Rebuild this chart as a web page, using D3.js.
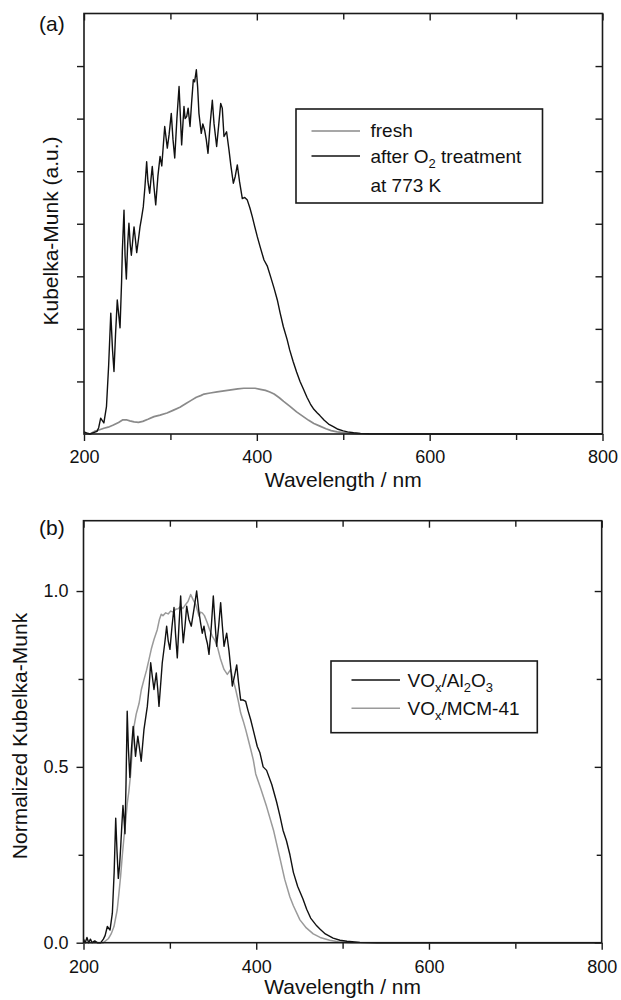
<!DOCTYPE html>
<html><head><meta charset="utf-8">
<script src="https://cdn.jsdelivr.net/npm/d3@7"></script>
<style>body{margin:0;background:#fff}svg{display:block;font-family:"Liberation Sans",Arial,Helvetica,sans-serif}</style>
</head><body><svg id="c" width="621" height="1000"></svg>
<script>
// ---------- data (wavelength nm, Kubelka-Munk) ----------
const xTickLabels = [200, 400, 600, 800];
const xMinorTicks = [300, 500, 700];
// Panel (a): arbitrary units (8 tick intervals, unlabeled)
const aYTicks = [1, 2, 3, 4, 5, 6, 7];
const treatedW = [200,203,207,212,215,217,219.3,221,223,226,228.5,231,233,234.7,236.5,238.5,240,241.7,243.5,244.4,246.3,247.5,249,250.5,252,253.5,254.8,256.5,257.9,259.5,261,263,264.8,266.5,268.6,270.5,272.5,274,276,277.5,279,281,283,285.5,288,290,293.4,296.4,298.5,301,303,305,307.5,310,313,315.7,317,318.8,320.5,322.7,324.5,326.5,328,330,331.5,333,335.7,337.5,339.6,341.5,343.5,346,348.5,350.5,353.5,356,358.2,360,362,365,367.8,370,372.8,375,377.4,380,383.2,386,389,392,394.8,397.5,400.6,404,408.3,412,416,420,423.7,427,430.7,435,438,442,446,450,454,458,462,466,470,473,478,483,488.5,494,500,505,512,520,530,545,570,650,800];
const treatedV = [0.04,0.02,0.0,0.03,0.05,0.12,0.30,0.26,0.21,0.52,1.3,2.30,1.6,1.19,1.9,2.55,2.3,2.02,2.9,3.5,4.26,3.4,2.95,3.6,4.01,3.6,3.4,3.7,3.94,3.7,3.45,3.7,3.94,4.1,4.32,4.7,5.18,4.8,4.58,4.85,5.09,4.7,4.36,4.9,5.28,5.1,5.85,5.44,5.7,6.10,5.6,5.25,6.0,6.61,5.50,6.23,6.0,6.04,6.2,5.85,6.3,6.74,6.7,6.93,6.6,6.10,5.72,5.9,5.78,5.6,5.34,5.9,6.35,5.9,5.47,5.9,6.29,6.2,5.66,5.75,5.40,5.1,4.77,4.9,5.12,4.8,4.48,4.5,4.45,4.3,4.13,3.95,3.75,3.55,3.31,3.2,2.99,2.77,2.55,2.3,2.04,1.8,1.6,1.38,1.18,1.0,0.85,0.70,0.57,0.47,0.40,0.35,0.26,0.19,0.14,0.09,0.06,0.04,0.025,0.012,0.005,0.002,0.0,0.0,0.0];
const freshW = [200,207,212,218,223,228,234,240,245,249,253,258,263,268,274,281,288,296,303,311,318,324,330,335,339,346,354,362,370,378,385,392,398,404,410,415,420,426,431,438,446,453,460,466,473,480,486,493,500,510,520,540,800];
const freshV = [0.0,0.0,0.05,0.08,0.11,0.13,0.17,0.22,0.27,0.27,0.25,0.23,0.22,0.24,0.28,0.33,0.36,0.40,0.45,0.51,0.58,0.64,0.70,0.73,0.76,0.78,0.80,0.82,0.84,0.86,0.87,0.87,0.87,0.85,0.83,0.80,0.76,0.69,0.62,0.53,0.42,0.34,0.26,0.20,0.15,0.10,0.065,0.04,0.025,0.01,0.003,0.0,0.0];
// Panel (b): normalized
const bYMajor = [0, 0.5, 1.0];
const bYMinor = [0.25, 0.75];
const aluminaW = [200,202,204,206,208,210,213,216,220,223,225,227.6,230.7,233.4,235.5,237.3,238.8,240.3,241.8,243,244.3,245.7,247,248,249.2,250.6,252,253.7,255.5,257.5,259,260.2,262.9,265,266.8,270,272,273.9,276,277.8,279.5,281.6,284.3,286,287.4,289.5,291.2,294,296.3,298,300.1,302.5,304.8,306.5,308.6,310.5,312.5,314,315.5,317.5,319.5,322,324.8,328,331,333.7,335.5,337.5,339.5,341.5,343.5,345.3,348,350.3,352,354.2,356.5,358.8,360.8,362.7,365.8,368.5,370.5,372.3,375,377.4,379.5,382,385,387.8,390.5,393.6,397,401.2,404.3,408,412,418,423.6,427.5,431,435,439,443,448,454,458.4,463,470,474,480,489,497,505,520,540,800];
const aluminaV = [0.01,0.0,0.015,0.0,0.01,0.0,0.005,0.0,0.0,0.01,0.02,0.046,0.036,0.084,0.2,0.354,0.26,0.183,0.22,0.27,0.33,0.39,0.35,0.31,0.45,0.658,0.55,0.47,0.55,0.615,0.57,0.53,0.587,0.55,0.516,0.606,0.64,0.672,0.73,0.796,0.76,0.72,0.767,0.72,0.672,0.74,0.796,0.85,0.90,0.86,0.834,0.9,0.953,0.88,0.81,0.9,0.986,0.91,0.853,0.9,0.957,0.92,0.90,0.95,1.0,0.94,0.91,0.88,0.9,0.87,0.85,0.82,0.9,0.986,0.92,0.843,0.9,0.967,0.9,0.843,0.88,0.829,0.78,0.73,0.76,0.79,0.74,0.69,0.69,0.686,0.66,0.634,0.60,0.558,0.54,0.50,0.49,0.45,0.40,0.36,0.32,0.29,0.25,0.20,0.16,0.125,0.095,0.07,0.048,0.038,0.025,0.013,0.007,0.004,0.001,0.0,0.0];
const mcmW = [200,223,229,232,235.3,239,241,243,245,246.9,249,250.7,252.5,254.6,256.5,258.5,261,264.3,267,270,273,275.8,278.5,281.6,285.4,288,290,292,295.2,298,301,304,306.7,310,312.5,315,318.3,321,324.1,327,329.9,333.7,335.5,337.5,340,343.3,346,349.1,352,354.9,358.8,362.7,366.5,370.4,373,376.2,379,382,385,387.8,390.5,393.6,396.6,399.4,405,412,420,427.5,433,439,443,450.6,458,466,474,485,495,510,800];
const mcmV = [0.0,0.0,0.012,0.025,0.046,0.093,0.14,0.19,0.25,0.30,0.35,0.397,0.43,0.48,0.55,0.615,0.65,0.68,0.72,0.748,0.775,0.805,0.835,0.862,0.89,0.92,0.934,0.93,0.938,0.935,0.943,0.94,0.948,0.95,0.957,0.95,0.962,0.97,0.99,0.975,0.962,0.929,0.94,0.938,0.93,0.91,0.89,0.872,0.86,0.843,0.805,0.777,0.763,0.777,0.75,0.72,0.69,0.653,0.63,0.606,0.58,0.55,0.52,0.48,0.44,0.387,0.32,0.24,0.18,0.13,0.105,0.065,0.042,0.025,0.015,0.007,0.003,0.0,0.0];

const svg = d3.select("#c");
const FONT_TICK = 18, FONT_TITLE = 21, FONT_LEG = 19;
const axisColor = "#1a1a1a";

function styleAxis(g){
  g.select(".domain").remove();
  g.selectAll(".tick line").attr("stroke", axisColor).attr("stroke-width", 1.4);
  g.selectAll(".tick text").attr("fill", "#111").style("font-size", FONT_TICK + "px");
}

function panel(opt){
  const x = d3.scaleLinear().domain([200, 800]).range([opt.left, opt.right]);
  const y = d3.scaleLinear().domain(opt.yDomain).range([opt.bottom, opt.top]);
  const g = svg.append("g");
  // bottom axis (outward ticks)
  g.append("g").attr("transform", `translate(0,${opt.bottom})`)
    .call(d3.axisBottom(x).tickValues(xTickLabels).tickSize(7).tickPadding(opt.xPad).tickFormat(d3.format("d"))).call(styleAxis);
  g.append("g").attr("transform", `translate(0,${opt.bottom})`)
    .call(d3.axisBottom(x).tickValues(xMinorTicks).tickSize(6).tickFormat("")).call(styleAxis);
  // top axis (mirrored ticks pointing down)
  g.append("g").attr("transform", `translate(0,${opt.top})`)
    .call(d3.axisBottom(x).tickValues(xTickLabels).tickSize(7).tickFormat("")).call(styleAxis);
  g.append("g").attr("transform", `translate(0,${opt.top})`)
    .call(d3.axisBottom(x).tickValues(xMinorTicks).tickSize(6).tickFormat("")).call(styleAxis);
  // left axis
  g.append("g").attr("transform", `translate(${opt.left},0)`)
    .call(d3.axisLeft(y).tickValues(opt.yMajor).tickSize(7).tickPadding(8).tickFormat(opt.yFormat)).call(styleAxis);
  if (opt.yMinor) g.append("g").attr("transform", `translate(${opt.left},0)`)
    .call(d3.axisLeft(y).tickValues(opt.yMinor).tickSize(5).tickFormat("")).call(styleAxis);
  // right axis (ticks pointing inward)
  g.append("g").attr("transform", `translate(${opt.right},0)`)
    .call(d3.axisLeft(y).tickValues(opt.yMajor).tickSize(7).tickFormat("")).call(styleAxis);
  if (opt.yMinor) g.append("g").attr("transform", `translate(${opt.right},0)`)
    .call(d3.axisLeft(y).tickValues(opt.yMinor).tickSize(5).tickFormat("")).call(styleAxis);

  // series
  const line = d3.line().x(d => x(d[0])).y(d => y(d[1]));
  opt.series.forEach(s => {
    const pts = s.w.map((w, i) => [w, s.v[i]]);
    g.append("path").datum(pts).attr("d", line).attr("fill", "none")
      .attr("stroke", s.color).attr("stroke-width", s.width).attr("stroke-linejoin", "round");
  });
  // frame
  g.append("rect").attr("x", opt.left).attr("y", opt.top)
    .attr("width", opt.right - opt.left).attr("height", opt.bottom - opt.top)
    .attr("fill", "none").attr("stroke", axisColor).attr("stroke-width", 1.6);

  // titles
  g.append("text").attr("x", (opt.left + opt.right) / 2).attr("y", opt.xTitleY)
    .attr("text-anchor", "middle").style("font-size", FONT_TITLE + "px").attr("fill", "#111")
    .text("Wavelength / nm");
  g.append("text").attr("transform", `translate(${opt.yTitleX},${opt.yTitleCY}) rotate(-90)`)
    .attr("text-anchor", "middle").style("font-size", FONT_TITLE + "px").attr("fill", "#111")
    .text(opt.yTitle);
  g.append("text").attr("x", 39).attr("y", opt.tagY).style("font-size", "21px").attr("fill", "#111").text(opt.tag);

  // legend
  const L = opt.legend;
  g.append("rect").attr("x", L.x0).attr("y", L.y0).attr("width", L.x1 - L.x0).attr("height", L.y1 - L.y0)
    .attr("fill", "#fff").attr("stroke", axisColor).attr("stroke-width", 1.6);
  L.items.forEach(it => {
    if (it.color) g.append("line").attr("x1", L.lx0).attr("x2", L.lx1).attr("y1", it.ly).attr("y2", it.ly)
      .attr("stroke", it.color).attr("stroke-width", it.width);
    const t = g.append("text").attr("x", L.tx).attr("y", it.ty).style("font-size", FONT_LEG + "px").attr("fill", "#111");
    it.parts.forEach(p => {
      if (p.sub) t.append("tspan").attr("dy", 5).style("font-size", "13px").text(p.sub);
      else if (p.after) t.append("tspan").attr("dy", -5).text(p.after);
      else t.append("tspan").text(p.t);
    });
  });
  return {x, y};
}

panel({
  left: 84, right: 602.5, top: 13.5, bottom: 434, yDomain: [0, 8],
  yMajor: aYTicks, yFormat: "", xPad: 9,
  xTitleY: 487, yTitleX: 58, yTitleCY: 231, yTitle: "Kubelka-Munk (a.u.)",
  tag: "(a)", tagY: 31,
  series: [
    {w: freshW, v: freshV, color: "#8a8a8a", width: 1.7},
    {w: treatedW, v: treatedV, color: "#111", width: 1.4}
  ],
  legend: {x0: 296, x1: 542.5, y0: 109, y1: 203, lx0: 311.5, lx1: 360, tx: 370.5,
    items: [
      {color: "#8a8a8a", width: 1.7, ly: 131, ty: 137, parts: [{t: "fresh"}]},
      {color: "#111", width: 1.6, ly: 156, ty: 163, parts: [{t: "after O"}, {sub: "2"}, {after: " treatment"}]},
      {ty: 191.5, parts: [{t: "at 773 K"}]}
    ]}
});

panel({
  left: 83.5, right: 601.7, top: 520.7, bottom: 942.7, yDomain: [0, 1.2],
  yMajor: bYMajor, yMinor: bYMinor, yFormat: d3.format(".1f"), xPad: 10.5,
  xTitleY: 994, yTitleX: 27, yTitleCY: 736, yTitle: "Normalized Kubelka-Munk",
  tag: "(b)", tagY: 535,
  series: [
    {w: mcmW, v: mcmV, color: "#9a9a9a", width: 1.5},
    {w: aluminaW, v: aluminaV, color: "#111", width: 1.4}
  ],
  legend: {x0: 331, x1: 537.3, y0: 661, y1: 732.7, lx0: 351.5, lx1: 400, tx: 407.5,
    items: [
      {color: "#111", width: 1.6, ly: 680, ty: 686.5, parts: [{t: "VO"}, {sub: "x"}, {after: "/Al"}, {sub: "2"}, {after: "O"}, {sub: "3"}]},
      {color: "#9a9a9a", width: 1.6, ly: 708.3, ty: 715, parts: [{t: "VO"}, {sub: "x"}, {after: "/MCM-41"}]}
    ]}
});
</script></body></html>
